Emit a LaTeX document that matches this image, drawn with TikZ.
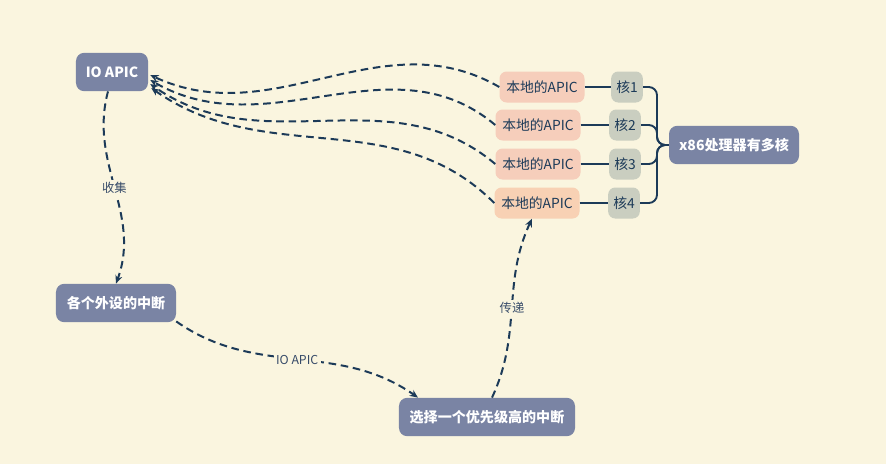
\documentclass[tikz,border=0pt]{standalone}
\usepackage{fontspec}
\setmainfont{Noto Sans CJK SC}
\usetikzlibrary{arrows.meta,positioning,calc}
\definecolor{bgcol}{RGB}{250,245,223}
\definecolor{slate}{RGB}{122,132,164}
\definecolor{peach}{RGB}{246,206,187}
\definecolor{peachb}{RGB}{248,209,180}
\definecolor{sage}{RGB}{202,206,192}
\definecolor{navy}{RGB}{28,58,88}
\definecolor{labtxt}{RGB}{55,75,105}
\tikzset{
  mainbox/.style={fill=slate,text=white,rounded corners=7pt,minimum height=1.15cm,
    font=\fontsize{12}{14}\selectfont\bfseries},
  apicbox/.style={fill=peach,text=navy,rounded corners=6pt,minimum height=.93cm,
    minimum width=2.55cm,inner xsep=2pt,font=\fontsize{11.8}{13}\selectfont},
  corebox/.style={fill=sage,text=navy,rounded corners=6pt,minimum height=.93cm,
    minimum width=.95cm,inner xsep=3pt,font=\fontsize{11.8}{13}\selectfont},
  flow/.style={->,navy,line width=1.7pt,dash pattern=on 6.5pt off 4pt},
  branch/.style={navy,line width=1.6pt,rounded corners=7pt},
  elabel/.style={fill=bgcol,text=labtxt,inner sep=2pt,font=\fontsize{10.5}{12}\selectfont}
}
\begin{document}
\begin{tikzpicture}[x=.03cm,y=.03cm,>={Stealth[length=7pt,width=6pt]}]
\fill[bgcol](0,0)rectangle(886,-464);
\node[mainbox,minimum width=2.16cm](io)at(112,-72){IO APIC};
\node[mainbox,minimum width=3.6cm](irq)at(116,-303){各个外设的中断};
\node[mainbox,minimum width=5.28cm](sel)at(487,-417){选择一个优先级高的中断};
\node[mainbox,minimum width=3.9cm](cpu)at(734,-145){x86处理器有多核};
\node[apicbox](a1)at(542,-87){本地的APIC};
\node[apicbox](a2)at(538,-125){本地的APIC};
\node[apicbox](a3)at(538,-164){本地的APIC};
\node[apicbox,fill=peachb](a4)at(537,-203){本地的APIC};
\node[corebox](c1)at(627,-87){核1};
\node[corebox](c2)at(625,-125){核2};
\node[corebox](c3)at(625,-164){核3};
\node[corebox](c4)at(624,-203){核4};
\coordinate(hub)at(657,-145);
% cores
\foreach \k in {1,...,4}{
  \draw[branch](a\k.east)--(c\k.west);
  \draw[branch](c\k.east)-|(hub)--(cpu.west);
}
% apic -> io apic
\draw[flow](a1.west)to[out=150,in=-25]($(io.east)+(2,-3)$);
\draw[flow](a2.west)to[out=140,in=-30]($(io.east)+(2,-8)$);
\draw[flow](a3.west)to[out=140,in=-35]($(io.east)+(2,-12)$);
\draw[flow](a4.west)to[out=135,in=-35]($(io.east)+(3,-16)$);
% interrupt path
\draw[flow]($(io.south)+(-4,0)$)to[out=-105,in=70]node[elabel]{收集}(irq.north);
\draw[flow](irq.-17)to[out=-35,in=145]node[elabel]{IO APIC}($(sel.north)+(-69,0)$);
\draw[flow]($(sel.north)+(5,0)$)to[out=65,in=-115]node[elabel]{传递}($(a4.south)+(-5,0)$);
\end{tikzpicture}
\end{document}
